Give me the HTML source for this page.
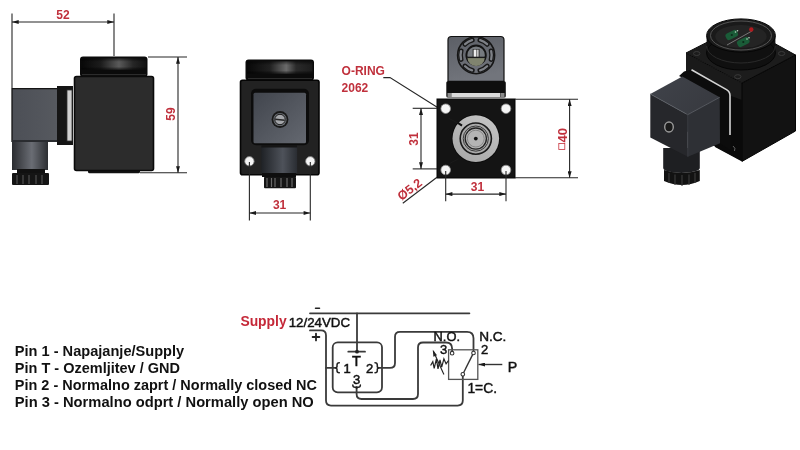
<!DOCTYPE html>
<html><head><meta charset="utf-8">
<style>
html,body{margin:0;padding:0;background:#fff;width:800px;height:450px;overflow:hidden}
svg{display:block;filter:blur(0.4px)}
text{font-family:"Liberation Sans",sans-serif}
.r{fill:#c0303c;font-weight:bold;font-size:12px}
.d{stroke:#262626;stroke-width:1.1;fill:none}
.w{stroke:#3a3a3a;stroke-width:1.8;fill:none;stroke-linecap:round;stroke-linejoin:round}
</style></head><body>
<svg width="800" height="450" viewBox="0 0 800 450">
<defs>
<marker id="ar" viewBox="0 0 10 6" refX="10" refY="3" markerWidth="7" markerHeight="4" orient="auto-start-reverse" markerUnits="userSpaceOnUse">
<path d="M0,0 L10,3 L0,6 z" fill="#1a1a1a"/></marker>
<linearGradient id="cyl" x1="0" x2="1" y1="0" y2="0">
<stop offset="0" stop-color="#2a2c30"/><stop offset="0.55" stop-color="#6a6d74"/><stop offset="1" stop-color="#2c2e32"/></linearGradient>
<linearGradient id="cap" x1="0" x2="1" y1="0" y2="0">
<stop offset="0" stop-color="#0a0a0a"/><stop offset="0.6" stop-color="#2a2a2a"/><stop offset="0.7" stop-color="#6a6a6a"/><stop offset="0.8" stop-color="#2a2a2a"/><stop offset="1" stop-color="#0a0a0a"/></linearGradient>
<linearGradient id="capv" x1="0" x2="0" y1="0" y2="1">
<stop offset="0" stop-color="#000" stop-opacity="0.5"/><stop offset="0.3" stop-color="#000" stop-opacity="0"/><stop offset="0.75" stop-color="#000" stop-opacity="0"/><stop offset="1" stop-color="#000" stop-opacity="0.6"/></linearGradient>
<linearGradient id="panel" x1="0" x2="1" y1="0" y2="1">
<stop offset="0" stop-color="#41454d"/><stop offset="1" stop-color="#646870"/></linearGradient>
<linearGradient id="conn" x1="0" x2="1" y1="0" y2="0">
<stop offset="0" stop-color="#4c4f56"/><stop offset="1" stop-color="#56595f"/></linearGradient>
<linearGradient id="panel3" x1="0" x2="0.3" y1="0" y2="1">
<stop offset="0" stop-color="#5c5f66"/><stop offset="1" stop-color="#72757c"/></linearGradient>
<linearGradient id="capS" x1="0" x2="1" y1="0" y2="0">
<stop offset="0" stop-color="#080808"/><stop offset="0.3" stop-color="#1c1c1c"/><stop offset="0.58" stop-color="#5a5a5a"/><stop offset="0.8" stop-color="#262626"/><stop offset="1" stop-color="#121212"/></linearGradient>
<linearGradient id="capF" x1="0" x2="1" y1="0" y2="0">
<stop offset="0" stop-color="#080808"/><stop offset="0.35" stop-color="#202020"/><stop offset="0.6" stop-color="#6a6a6a"/><stop offset="0.75" stop-color="#2a2a2a"/><stop offset="1" stop-color="#1c1c1c"/></linearGradient>
<linearGradient id="ringg" x1="0.2" x2="0.8" y1="1" y2="0">
<stop offset="0" stop-color="#a8a8a8"/><stop offset="1" stop-color="#c4c4c4"/></linearGradient>
<linearGradient id="ctop" x1="0" x2="1" y1="0" y2="0.5">
<stop offset="0" stop-color="#40434a"/><stop offset="1" stop-color="#383a40"/></linearGradient>
<linearGradient id="cylF" x1="0" x2="1" y1="0" y2="0">
<stop offset="0" stop-color="#1f2226"/><stop offset="0.6" stop-color="#4e525a"/><stop offset="1" stop-color="#2a2d32"/></linearGradient>
</defs>

<!-- ============ SIDE VIEW ============ -->
<line class="d" x1="12" y1="13.5" x2="12" y2="88"/>
<line class="d" x1="114" y1="13.5" x2="114" y2="56"/>
<line class="d" x1="12" y1="22" x2="114" y2="22" marker-start="url(#ar)" marker-end="url(#ar)"/>
<text class="r" x="63" y="19" text-anchor="middle">52</text>

<!-- S_CONNECTOR -->
<rect x="12" y="88" width="45" height="54" fill="url(#conn)"/>
<path d="M12,142 V88.6 H57" fill="none" stroke="#151515" stroke-width="1.3"/>
<rect x="12" y="140" width="45" height="2" fill="#2a2c30"/>
<rect x="12" y="142" width="36" height="28" fill="url(#cyl)"/>
<rect x="17" y="169" width="28" height="4" fill="#111"/>
<rect x="12" y="173" width="37" height="12" rx="1" fill="#151515"/>
<g stroke="#5a5a5a" stroke-width="1">
<line x1="17" y1="175" x2="17" y2="184"/><line x1="23" y1="175" x2="23" y2="184"/><line x1="29" y1="175" x2="29" y2="184"/><line x1="36" y1="175" x2="36" y2="184"/><line x1="42" y1="175" x2="42" y2="184"/></g>
<rect x="57" y="86" width="16" height="59" fill="#151515"/>
<rect x="67" y="90" width="5" height="51" fill="#d0d0d0" stroke="#333" stroke-width="0.8"/>
<!-- S_BODY -->
<rect x="88" y="169" width="52" height="4.2" rx="1.5" fill="#121212"/>
<rect x="74.5" y="76.5" width="79" height="94" rx="2" fill="#2c2c2c" stroke="#0a0a0a" stroke-width="1.6"/>
<rect x="80" y="56.5" width="67.5" height="20.5" rx="3" fill="#0b0b0b"/>
<rect x="81.5" y="58.5" width="64.5" height="11" fill="url(#capS)"/>
<rect x="81.5" y="58.5" width="64.5" height="11" fill="url(#capv)"/>
<line x1="82" y1="74.6" x2="146" y2="74.6" stroke="#3a3a3a" stroke-width="0.8"/>
<!-- S_DIM59 -->
<line class="d" x1="148" y1="57" x2="187" y2="57"/>
<line class="d" x1="140" y1="172.8" x2="187" y2="172.8"/>
<line class="d" x1="178" y1="57" x2="178" y2="172.8" marker-start="url(#ar)" marker-end="url(#ar)"/>
<text class="r" x="0" y="0" text-anchor="middle" transform="translate(174.5,114) rotate(-90)">59</text>

<!-- ============ FRONT VIEW ============ -->
<rect x="245.5" y="59.5" width="68.5" height="21" rx="3" fill="#0b0b0b"/>
<rect x="247" y="61.5" width="65.5" height="12" fill="url(#capF)"/>
<rect x="247" y="61.5" width="65.5" height="12" fill="url(#capv)"/>
<line x1="248" y1="78.6" x2="312" y2="78.6" stroke="#3a3a3a" stroke-width="0.8"/>
<rect x="240.5" y="80.3" width="78.5" height="94.5" rx="2" fill="#222222" stroke="#050505" stroke-width="1.6"/>
<rect x="251" y="88.7" width="58" height="56.6" rx="5" fill="#0c0c0c"/>
<rect x="253.5" y="92.7" width="52.5" height="50.5" rx="1.5" fill="url(#panel)"/>
<circle cx="280" cy="119.5" r="8.4" fill="#181818"/>
<circle cx="280" cy="119.5" r="6.6" fill="#6a6e74"/>
<circle cx="280" cy="119.5" r="5.2" fill="#a4a6aa" stroke="#1e1e1e" stroke-width="1"/>
<path d="M275.3,118.6 L284.7,119.6 L284.5,121 L275.1,120 Z" fill="#262626"/>
<rect x="261.4" y="145" width="35.7" height="28" fill="url(#cylF)"/>
<rect x="261.4" y="145" width="35.7" height="2.5" fill="#151515"/>
<rect x="264" y="176.7" width="32" height="11.6" rx="1" fill="#151515"/>
<rect x="262" y="173" width="34" height="4" fill="#0e0e0e"/>
<g stroke="#6a6a6a" stroke-width="1.2">
<line x1="267" y1="178" x2="267" y2="187"/><line x1="271.5" y1="178" x2="271.5" y2="187"/>
<line x1="269" y1="178" x2="269" y2="178"/><line x1="275" y1="178" x2="275" y2="187"/><line x1="281" y1="178" x2="281" y2="187"/><line x1="287" y1="178" x2="287" y2="187"/><line x1="292" y1="178" x2="292" y2="187"/></g>
<circle cx="249.4" cy="161.3" r="4.7" fill="#f4f4f4" stroke="#777" stroke-width="0.8"/>
<circle cx="310.3" cy="161.3" r="4.7" fill="#f4f4f4" stroke="#777" stroke-width="0.8"/>
<line class="d" x1="249.4" y1="162" x2="249.4" y2="220.6"/>
<line class="d" x1="310.3" y1="162" x2="310.3" y2="220.6"/>
<line class="d" x1="249.4" y1="213" x2="310.3" y2="213" marker-start="url(#ar)" marker-end="url(#ar)"/>
<text class="r" x="279.6" y="209.4" text-anchor="middle">31</text>

<!-- ============ VIEW3 ============ -->
<text class="r" x="341.6" y="74.6">O-RING</text>
<text class="r" x="341.6" y="92">2062</text>
<polyline class="d" points="383.3,77.6 390,77.6 440,109" stroke="#2a2a2a"/>
<path d="M448,81.3 L448,40 Q448,36.5 451.5,36.5 L500.5,36.5 Q504,36.5 504,40 L504,81.3 Z" fill="url(#panel3)" stroke="#111" stroke-width="1.2"/>
<!-- KNOB -->
<g transform="translate(476.1,55.2)">
<circle r="18.5" fill="none" stroke="#161616" stroke-width="1.6"/>
<g fill="none" stroke="#181818" stroke-width="4.8" stroke-linecap="round"><path d="M3.77,-15.14 A15.6,15.6 0 0 1 11.22,-10.84"/><path d="M15.00,-4.30 A15.6,15.6 0 0 1 15.00,4.30"/><path d="M11.22,10.84 A15.6,15.6 0 0 1 3.77,15.14"/><path d="M-3.77,15.14 A15.6,15.6 0 0 1 -11.22,10.84"/><path d="M-15.00,4.30 A15.6,15.6 0 0 1 -15.00,-4.30"/><path d="M-11.22,-10.84 A15.6,15.6 0 0 1 -3.77,-15.14"/></g>
<g fill="none" stroke="#7e8187" stroke-width="2.3" stroke-linecap="round"><path d="M4.04,-15.07 A15.6,15.6 0 0 1 11.03,-11.03"/><path d="M15.07,-4.04 A15.6,15.6 0 0 1 15.07,4.04"/><path d="M11.03,11.03 A15.6,15.6 0 0 1 4.04,15.07"/><path d="M-4.04,15.07 A15.6,15.6 0 0 1 -11.03,11.03"/><path d="M-15.07,4.04 A15.6,15.6 0 0 1 -15.07,-4.04"/><path d="M-11.03,-11.03 A15.6,15.6 0 0 1 -4.04,-15.07"/></g>
<circle r="9.7" fill="#767a7f" stroke="#141414" stroke-width="1.9"/>
<path d="M-8.7,2.2 A8.7,8.7 0 0 0 8.7,2.2 Z" fill="#80846f"/>
<rect x="-3.4" y="-6.2" width="6.8" height="8.4" fill="#222"/>
<rect x="-2.5" y="-5.6" width="2.4" height="7.4" fill="#eeeeee"/><rect x="0.3" y="-5.6" width="2.3" height="7.4" fill="#c4c4c4"/>
<line x1="-8.9" y1="2.2" x2="8.9" y2="2.2" stroke="#1a1a1a" stroke-width="1.4"/>
</g>
<rect x="446.3" y="81.3" width="59.5" height="16.2" rx="1.5" fill="#0e0e0e"/>
<rect x="447.5" y="93" width="3.5" height="4" fill="#8a8a8a"/><rect x="501" y="93" width="3.5" height="4" fill="#8a8a8a"/>
<rect x="451.3" y="93" width="49.1" height="4" fill="#dadada"/>
<rect x="437" y="99" width="78" height="79" fill="#141414" stroke="#050505" stroke-width="1"/>
<g fill="#f5f5f5" stroke="#888" stroke-width="0.8">
<circle cx="445.7" cy="108.7" r="4.8"/><circle cx="506" cy="108.7" r="4.8"/><circle cx="445.7" cy="170" r="4.8"/><circle cx="506" cy="170" r="4.8"/></g>
<circle cx="475.8" cy="138.6" r="24.2" fill="#0a0a0a"/>
<circle cx="475.8" cy="138.6" r="23.3" fill="url(#ringg)"/>
<circle cx="475.8" cy="138.6" r="15.6" fill="#a9a9a9" stroke="#1a1a1a" stroke-width="1.6"/>
<circle cx="475.8" cy="138.6" r="12.6" fill="none" stroke="#3a3a3a" stroke-width="1"/>
<circle cx="475.8" cy="138.6" r="10.6" fill="#b4b4b4" stroke="#222" stroke-width="1.3"/>
<circle cx="475.8" cy="138.6" r="8.4" fill="none" stroke="#7a7a7a" stroke-width="0.8"/>
<circle cx="475.8" cy="138.6" r="1.9" fill="#111"/>
<line x1="448.6" y1="118.2" x2="462" y2="125.4" stroke="#1a1a1a" stroke-width="1"/>
<line x1="457.5" y1="122.6" x2="462" y2="125.6" stroke="#111" stroke-width="2"/>
<line x1="450" y1="163.3" x2="458.7" y2="158.7" stroke="#1a1a1a" stroke-width="1"/>
<line class="d" x1="515" y1="99.3" x2="578" y2="99.3"/>
<line class="d" x1="515" y1="177.8" x2="578" y2="177.8"/>
<line class="d" x1="569.6" y1="99.3" x2="569.6" y2="177.8" marker-start="url(#ar)" marker-end="url(#ar)"/>
<text class="r" x="0" y="0" transform="translate(566.5,142.5) rotate(-90)" style="font-size:13px">40</text>
<rect x="558.8" y="143.5" width="6" height="6" fill="none" stroke="#c8323c" stroke-width="0.8"/>
<line class="d" x1="412.7" y1="108.3" x2="437" y2="108.3"/>
<line class="d" x1="412.7" y1="168.9" x2="437" y2="168.9"/>
<line class="d" x1="421" y1="108.3" x2="421" y2="168.9" marker-start="url(#ar)" marker-end="url(#ar)"/>
<text class="r" x="0" y="0" text-anchor="middle" transform="translate(418,139) rotate(-90)">31</text>
<line class="d" x1="445.7" y1="171" x2="445.7" y2="201.3"/>
<line class="d" x1="506" y1="171" x2="506" y2="201.3"/>
<line class="d" x1="445.7" y1="194.1" x2="506" y2="194.1" marker-start="url(#ar)" marker-end="url(#ar)"/>
<text class="r" x="477.5" y="190.6" text-anchor="middle">31</text>
<line class="d" x1="402.8" y1="203.3" x2="437" y2="177.2"/>
<text class="r" x="0" y="0" transform="translate(401.5,201) rotate(-37.4)" style="font-size:12.5px">Ø5,2</text>

<!-- ============ ISO ============ -->
<polygon points="686,53 742,83 742,161 686,131" fill="#1a1a1a"/>
<polygon points="742,83 795.5,55 795.5,131 742,161.4" fill="#121212" stroke="#050505" stroke-width="1"/>
<polygon points="686,53 741,25 795.5,55 742,83" fill="#1c1c1c" stroke="#080808" stroke-width="1"/>
<g fill="none" stroke="#3a3a3a" stroke-width="1">
<ellipse cx="696.7" cy="53.5" rx="3.2" ry="2"/><ellipse cx="781.6" cy="53.5" rx="3.2" ry="2"/><ellipse cx="737.8" cy="76.7" rx="3.2" ry="2"/></g>
<path d="M706.6,36 L706.6,53 A34.4,17 0 0 0 775.4,53 L775.4,36 Z" fill="#101010"/>
<ellipse cx="741" cy="53" rx="34.4" ry="17" fill="none" stroke="#050505" stroke-width="1"/>
<path d="M706.6,46 A34.4,17 0 0 0 775.4,46" fill="none" stroke="#2a2a2a" stroke-width="1"/>
<ellipse cx="741" cy="35.5" rx="34.4" ry="16.6" fill="#1a1a1a" stroke="#050505" stroke-width="1"/>
<ellipse cx="741" cy="35.5" rx="30.5" ry="14.5" fill="none" stroke="#5a5a5a" stroke-width="0.9"/>
<ellipse cx="741" cy="36.5" rx="25.7" ry="11.5" fill="#242424"/>
<line x1="727" y1="45" x2="752" y2="31" stroke="#8a8a8a" stroke-width="0.8"/>
<g fill="#1a5c38"><rect x="725.5" y="31.5" width="12.5" height="7" rx="2.5" transform="rotate(-27 731.8 35)"/><rect x="737" y="38.5" width="12.5" height="7" rx="2.5" transform="rotate(-27 743.3 42)"/></g>
<g fill="#0d2a1a"><circle cx="731.8" cy="35" r="1.1"/><circle cx="743.3" cy="42" r="1.1"/></g>
<g fill="#b8d8c4"><circle cx="735.5" cy="32" r="0.8"/><circle cx="737.5" cy="30.8" r="0.8"/><circle cx="747" cy="39" r="0.8"/><circle cx="749" cy="37.8" r="0.8"/></g>
<circle cx="751.3" cy="29.5" r="2.2" fill="#b01a1e"/>
<!-- ISO_FLANGE -->
<polygon points="715,147 742,161.4 742,100 715,90" fill="#0a0a0a"/>
<polygon points="679,76 684,71.5 691.5,69.5 727.5,89.5 730.5,94.5 730.5,150 720,143.3 683,78" fill="#0c0c0c"/>
<path d="M691.5,69.8 L726.5,89.6 Q730,91.8 730,95.5 L730,135" fill="none" stroke="#d4d4d4" stroke-width="1.6"/>
<path d="M733,146 Q736,148 734.5,151" fill="none" stroke="#777" stroke-width="0.8"/>
<!-- ISO_CYL -->
<path d="M663.2,148 L663.2,168 A18.3,5 0 0 0 699.8,168 L699.8,148 Z" fill="#1e1f22"/>
<path d="M664,170 L664,181 Q682,189 699.8,181 L699.8,170 Q682,176 664,170 Z" fill="#121212"/>
<g stroke="#3c3c3c" stroke-width="1.1"><line x1="669" y1="173" x2="669" y2="183"/><line x1="675" y1="174.5" x2="675" y2="185"/><line x1="682" y1="175" x2="682" y2="186"/><line x1="689" y1="174.5" x2="689" y2="185"/><line x1="695" y1="173" x2="695" y2="183"/></g>
<!-- ISO_CONN -->
<polygon points="650.3,94 682.3,76.6 719.7,97.3 687.7,114.7" fill="url(#ctop)"/>
<polygon points="650.3,94 687.7,114.7 687.8,156.7 650.3,137.5" fill="#26272b"/>
<polygon points="687.7,114.7 719.7,97.3 720,143.3 687.8,156.7" fill="#2e3035"/>
<polyline points="650.3,94 687.7,114.7 719.7,97.3" fill="none" stroke="#5a5d64" stroke-width="0.9"/>
<line x1="687.7" y1="114.7" x2="687.8" y2="156.7" stroke="#3e4046" stroke-width="0.8"/>
<ellipse cx="669" cy="127" rx="4.3" ry="5" fill="#1a1a1a" stroke="#9a9a9a" stroke-width="1.4"/>
<!-- SCHEMATIC -->
<g style="font-weight:bold;font-size:13.8px" fill="#111">
<text x="14.8" y="355.8" textLength="169.4" lengthAdjust="spacingAndGlyphs">Pin 1 - Napajanje/Supply</text>
<text x="14.8" y="372.8" textLength="165.2" lengthAdjust="spacingAndGlyphs">Pin T - Ozemljitev / GND</text>
<text x="14.8" y="389.8" textLength="302.2" lengthAdjust="spacingAndGlyphs">Pin 2 - Normalno zaprt / Normally closed NC</text>
<text x="14.8" y="406.8" textLength="299" lengthAdjust="spacingAndGlyphs">Pin 3 - Normalno odprt / Normally open NO</text>
</g>
<text x="240.4" y="326" style="font-weight:bold;font-size:14px" fill="#c52838" textLength="46.2" lengthAdjust="spacingAndGlyphs">Supply</text>
<text x="288.7" y="326.7" style="font-size:12.8px" fill="#111" stroke="#111" stroke-width="0.45" textLength="61.3" lengthAdjust="spacingAndGlyphs">12/24VDC</text>
<g class="w">
<path d="M310,313.3 H469.4"/>
<path d="M357,313.3 V351.7"/>
<path d="M348.3,351.7 H365"/>
<path d="M310,330.4 H321 Q326,330.4 326,335.4 V400.6 Q326,405.6 331,405.6 H457.6 Q462.8,405.6 462.8,400.6 V376.3"/>
<path d="M326,367.9 H336"/>
<path d="M378.3,367.9 H390 Q395,367.9 395,362.9 V336.8 Q395,331.8 400,331.8 H467 Q473.5,331.8 473.5,338.3 V350.9"/>
<path d="M356.6,387 V394 Q356.6,399 361.6,399 H413 Q418,399 418,394 V347.5 Q418,342.5 423,342.5 H446 Q452.1,342.5 452.1,348.6 V350.9"/>
<rect x="332.7" y="342.3" width="49.3" height="50" rx="5" ry="5"/>
</g>
<circle cx="357" cy="351.7" r="1.9" fill="#222"/>
<g stroke="#222" stroke-width="1.5" fill="none" stroke-linecap="round">
<path d="M315.5,308.3 H319.5"/>
<path d="M312.6,337 H319.4 M316,333.6 V340.4" stroke-width="1.8"/>
<path d="M339.3,362.8 Q337,362.8 337,365 V366.8 L335.8,367.9 L337,369 V370.8 Q337,372.8 339.3,372.8"/>
<path d="M375,362.8 Q377.3,362.8 377.3,365 V366.8 L378.5,367.9 L377.3,369 V370.8 Q377.3,372.8 375,372.8"/>
<path d="M352.8,385 Q352.8,387.3 355,387.3 H355.6 L356.6,388.3 L357.6,387.3 H358.2 Q360.4,387.3 360.4,385"/>
</g>
<g fill="#111" stroke="#111" stroke-width="0.5" style="font-size:13.5px">
<text x="356.4" y="365.7" text-anchor="middle" style="font-size:14.5px">T</text>
<text x="347.2" y="372.8" text-anchor="middle" style="font-size:13px">1</text>
<text x="369.5" y="372.8" text-anchor="middle" style="font-size:13px">2</text>
<text x="356.6" y="384.3" text-anchor="middle" style="font-size:13px">3</text>
</g>
<rect x="448.6" y="349.8" width="29.2" height="29.6" fill="none" stroke="#555" stroke-width="1.3"/>
<line x1="462.8" y1="374.3" x2="473.5" y2="352.9" stroke="#333" stroke-width="1.4"/>
<g fill="#fff" stroke="#333" stroke-width="1.1">
<circle cx="452.1" cy="353.2" r="1.8"/><circle cx="473.5" cy="353" r="1.8"/><circle cx="462.8" cy="374.3" r="1.8"/></g>
<line x1="502.3" y1="364.5" x2="478.5" y2="364.5" stroke="#333" stroke-width="1.4" marker-end="url(#ar)"/>
<g fill="#111" stroke="#111" stroke-width="0.45">
<text x="433.6" y="341.4" style="font-size:12.6px" textLength="26.4" lengthAdjust="spacingAndGlyphs">N.O.</text>
<text x="479.2" y="341.4" style="font-size:12.6px" textLength="27.2" lengthAdjust="spacingAndGlyphs">N.C.</text>
<text x="443.5" y="354.4" text-anchor="middle" style="font-size:13px">3</text>
<text x="484.5" y="354.4" text-anchor="middle" style="font-size:13px">2</text>
<text x="512.5" y="371.6" text-anchor="middle" style="font-size:14.2px">P</text>
<text x="467.4" y="393" style="font-size:14.2px" textLength="29.6" lengthAdjust="spacingAndGlyphs">1=C.</text>
</g>
<g stroke="#222" stroke-width="1.1" fill="none">
<path d="M430.6,365.5 L432.8,361.7 L434.2,368.3 L436.4,358.9 L438,368.9 L440,360 L441.7,367.2 L443.9,358.9 L446.1,363.9 L448.5,360.5" stroke-width="1.2"/>
<line x1="433.3" y1="351" x2="443.9" y2="374.4"/>
</g>
<path d="M432.8,349.8 L437,355.2 L433.4,356.8 Z" fill="#222"/>
</svg>
</body></html>
